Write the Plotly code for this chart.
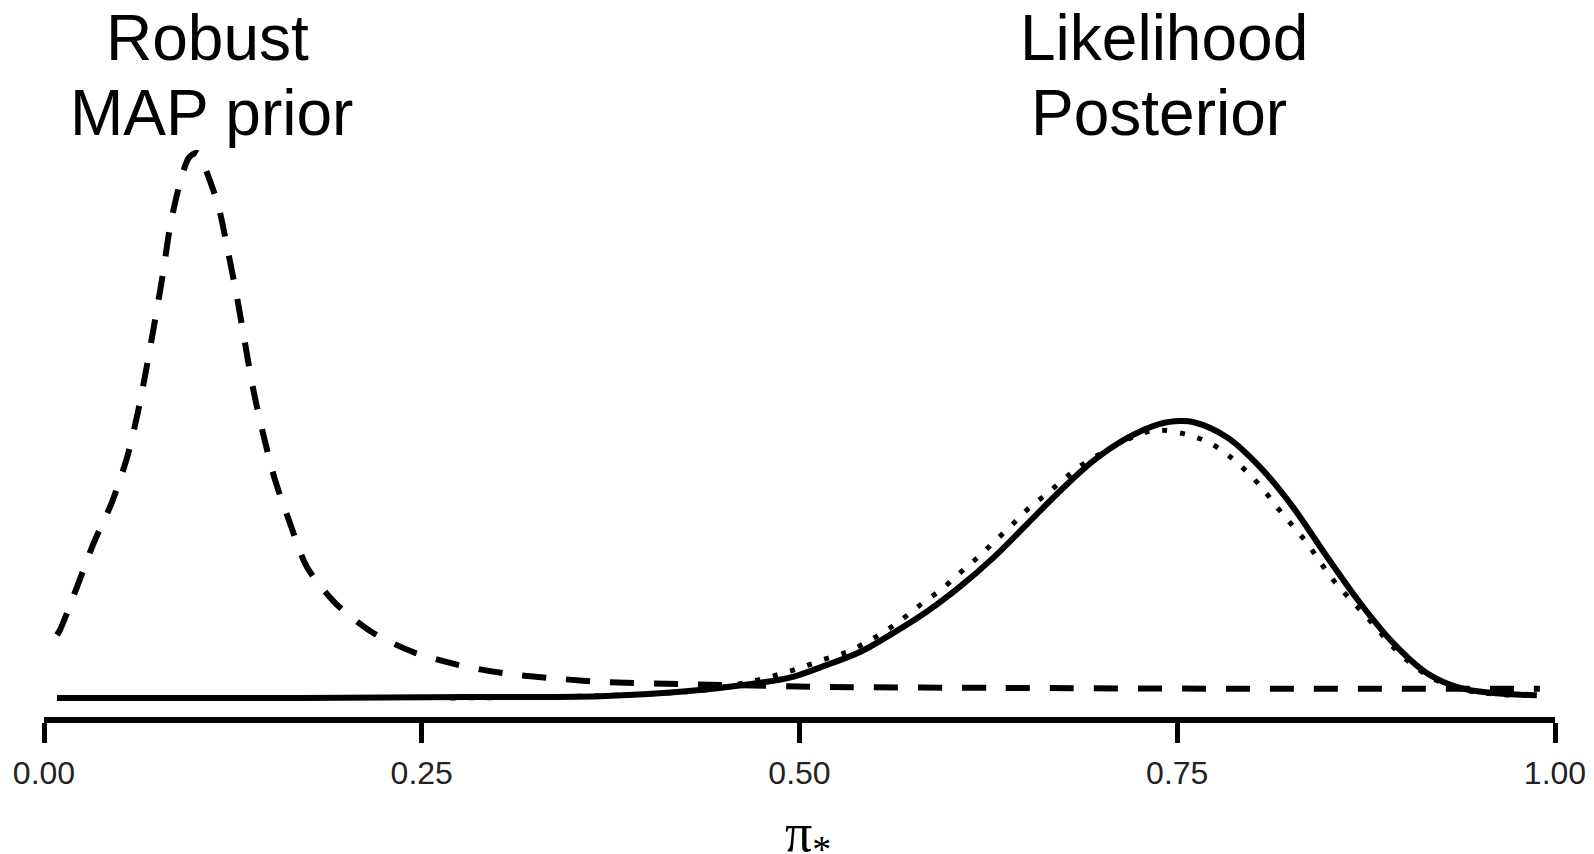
import plotly.graph_objects as go

# ---- data (x = pi*, y = density) ----
prior_x = [0.0086, 0.0106, 0.0218, 0.0324, 0.045, 0.0549, 0.0622, 0.0682, 0.0735, 0.0788,
           0.0834, 0.090, 0.0960, 0.1013, 0.1052, 0.1152, 0.1218, 0.1277, 0.133, 0.1383,
           0.1449, 0.1529, 0.1628, 0.174, 0.1926, 0.2171, 0.2442, 0.274, 0.3038, 0.34,
           0.37, 0.4275, 0.52, 0.633, 0.798, 0.99]
prior_y = [1.37, 1.48, 2.41, 3.33, 4.26, 5.22, 6.22, 7.24, 8.22, 9.24,
           10.24, 11.2, 11.75, 11.85, 11.63, 10.72, 9.70, 8.72, 7.72, 6.74,
           5.76, 4.74, 3.80, 2.85, 2.07, 1.43, 1.00, 0.72, 0.54, 0.42,
           0.35, 0.30, 0.24, 0.22, 0.20, 0.20]

post_x = [0.0086, 0.169, 0.282, 0.368, 0.423, 0.4739, 0.4957, 0.5182, 0.540, 0.5619,
          0.5844, 0.6062, 0.628, 0.6506, 0.6724, 0.6942, 0.7167, 0.7386, 0.7518, 0.7604,
          0.7829, 0.8048, 0.8266, 0.8491, 0.8709, 0.8928, 0.9153, 0.9371, 0.959, 0.988]
post_y = [0.0, 0.0, 0.02, 0.04, 0.14, 0.33, 0.46, 0.72, 1.00, 1.41,
          1.88, 2.42, 3.04, 3.78, 4.50, 5.15, 5.65, 5.96, 6.02, 6.00,
          5.67, 5.02, 4.15, 3.07, 2.07, 1.20, 0.54, 0.22, 0.11, 0.06]

lik_x = [0.269, 0.368, 0.434, 0.456, 0.472, 0.487, 0.5017, 0.5156, 0.5314, 0.5447,
         0.5579, 0.5698, 0.5817, 0.5943, 0.6062, 0.6175, 0.628, 0.6393, 0.6506, 0.6625,
         0.6744, 0.687, 0.7273, 0.7406, 0.7571, 0.7717, 0.7836, 0.7948, 0.806, 0.816,
         0.8259, 0.8359, 0.8445, 0.8531, 0.863, 0.8729, 0.8829, 0.8928, 0.915, 0.937,
         0.959, 0.988]
lik_y = [0.0, 0.05, 0.16, 0.28, 0.39, 0.52, 0.67, 0.83, 1.00, 1.22,
         1.48, 1.76, 2.07, 2.37, 2.72, 3.04, 3.37, 3.72, 4.09, 4.41,
         4.74, 5.07, 5.76, 5.82, 5.72, 5.54, 5.28, 4.96, 4.57, 4.15,
         3.76, 3.37, 2.96, 2.57, 2.20, 1.85, 1.48, 1.11, 0.50, 0.20,
         0.09, 0.05]

tick_vals = [0.0, 0.25, 0.5, 0.75, 1.0]
tick_text = ["0.00", "0.25", "0.50", "0.75", "1.00"]
x_label = "π<sub>*</sub>"

fig = go.Figure()
fig.add_trace(go.Scatter(x=prior_x, y=prior_y, mode="lines",
                         line=dict(color="black", width=6, dash="24px,20px",
                                   shape="spline", smoothing=0.8),
                         name="Robust MAP prior"))
fig.add_trace(go.Scatter(x=lik_x, y=lik_y, mode="lines",
                         line=dict(color="black", width=5, dash="5px,13px",
                                   shape="spline", smoothing=1.0),
                         name="Likelihood"))
fig.add_trace(go.Scatter(x=post_x, y=post_y, mode="lines",
                         line=dict(color="black", width=6,
                                   shape="spline", smoothing=1.0),
                         name="Posterior"))

font_txt = dict(family="Arial, Liberation Sans, sans-serif", size=64, color="black")
ann = []
for txt, xv, yp in [("Robust", 0.108, 38), ("MAP prior", 0.1108, 113),
                    ("Likelihood", 0.7412, 38), ("Posterior", 0.738, 113)]:
    ann.append(dict(text=txt, x=xv, y=1 - yp / 717, xref="x", yref="paper",
                    xanchor="center", yanchor="middle", showarrow=False, font=font_txt))
# x-axis label (placed as an annotation so it can sit right at the bottom edge)
ann.append(dict(text=x_label, x=0.5053, y=1 - 836 / 717, xref="x", yref="paper",
                xanchor="center", yanchor="middle", showarrow=False,
                font=dict(family="Liberation Serif, Times New Roman, serif", size=54, color="black")))

fig.update_layout(
    width=1594, height=854,
    margin=dict(l=44, r=39, t=0, b=137, autoexpand=False),
    paper_bgcolor="white", plot_bgcolor="white",
    showlegend=False,
    annotations=ann,
    xaxis=dict(range=[0, 1], tickvals=tick_vals, ticktext=tick_text,
               automargin=False,
               showline=True, linecolor="black", linewidth=6,
               ticks="outside", ticklen=20, tickwidth=5, tickcolor="black",
               ticklabelstandoff=3,
               showgrid=False, zeroline=False,
               tickfont=dict(family="Arial, Liberation Sans, sans-serif",
                             size=32, color="#222")),
    yaxis=dict(range=[-0.413, 15.174], visible=False, showgrid=False, zeroline=False,
               automargin=False),
)

# remove the default 8px page margin so the figure fills the window exactly
fig.write_html("out.html", config={"displayModeBar": False},
               post_script="document.body.style.margin='0';")
